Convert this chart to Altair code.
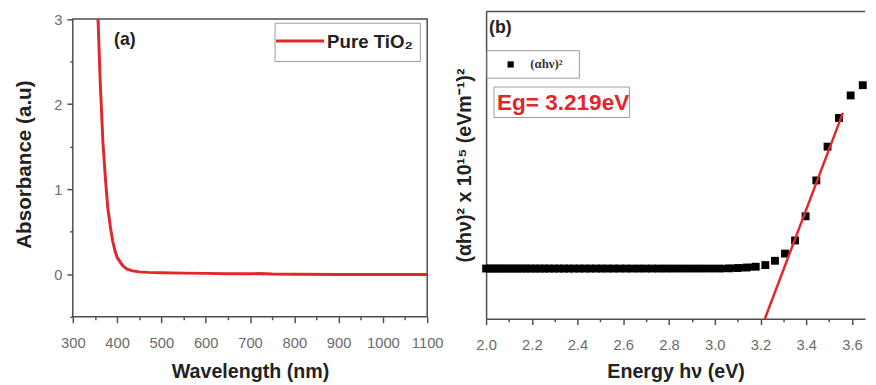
import altair as alt
import pandas as pd

# ---------------- data: panel (a) UV-Vis absorbance ----------------
wavelength = [357, 362, 368, 374, 379, 385, 390, 395, 400, 405, 410, 415, 423,
              435, 450, 470, 500, 550, 600, 650, 700, 720, 750, 800, 900, 1000, 1100]
absorbance = [3.0, 2.25, 1.55, 1.1, 0.78, 0.55, 0.39, 0.28, 0.20, 0.16, 0.12, 0.09, 0.06,
              0.04, 0.028, 0.022, 0.018, 0.013, 0.010, 0.006, 0.006, 0.008, 0.002, 0.0,
              -0.002, -0.003, -0.004]
wl_ticks = [300, 350, 400, 450, 500, 550, 600, 650, 700, 750, 800, 850, 900, 950, 1000, 1050, 1100]
abs_ticks = [-0.5, 0, 0.5, 1, 1.5, 2, 2.5, 3]

# ---------------- data: panel (b) Tauc plot ----------------
energy = [2.000, 2.016, 2.033, 2.050, 2.067, 2.084, 2.102, 2.120, 2.138, 2.157,
          2.175, 2.195, 2.214, 2.234, 2.255, 2.275, 2.296, 2.318, 2.340, 2.362,
          2.385, 2.408, 2.431, 2.455, 2.480, 2.505, 2.531, 2.557, 2.583, 2.611,
          2.638, 2.667, 2.696, 2.725, 2.756, 2.787, 2.818, 2.851, 2.884, 2.918,
          2.952, 2.988, 3.024, 3.062, 3.100, 3.139, 3.179, 3.221, 3.263, 3.307,
          3.351, 3.397, 3.444, 3.493, 3.543, 3.594, 3.647]
tauc = [0.49, 0.49, 0.49, 0.49, 0.49, 0.49, 0.49, 0.49, 0.49, 0.49,
        0.49, 0.49, 0.49, 0.49, 0.49, 0.49, 0.49, 0.49, 0.49, 0.49,
        0.49, 0.49, 0.49, 0.49, 0.49, 0.49, 0.49, 0.49, 0.49, 0.49,
        0.49, 0.49, 0.49, 0.49, 0.49, 0.49, 0.49, 0.49, 0.49, 0.49,
        0.49, 0.49, 0.490, 0.492, 0.495, 0.500, 0.508, 0.524, 0.566, 0.636,
        0.764, 1.00, 1.35, 1.68, 1.96, 2.18, 2.28]
fit_energy = [3.219, 3.56]
fit_value = [0.0, 2.01]
e_ticks = [2.0, 2.1, 2.2, 2.3, 2.4, 2.5, 2.6, 2.7, 2.8, 2.9, 3.0, 3.1, 3.2, 3.3, 3.4, 3.5, 3.6]

RED = "#e3262b"
FRAME = "#4d4d4d"
LABEL = "#6b6b6b"
FONT = "Liberation Sans"
one = pd.DataFrame({"k": [0]})

# ---------------- panel (a) ----------------
WA, HA = 361, 311


def xa(field="wl"):
    return alt.X(f"{field}:Q",
                 scale=alt.Scale(domain=[300, 1100], nice=False, zero=False),
                 axis=alt.Axis(values=wl_ticks, labelOverlap=False, labelFlush=False,
                               labelExpr="datum.value % 100 === 0 ? format(datum.value, 'd') : ''",
                               tickSize={"condition": {"test": "datum.value % 100 !== 0", "value": 3}, "value": 6},
                               title="Wavelength (nm)", domain=False, grid=False,
                               labelPadding=13, titlePadding=12))


def ya(field="abs"):
    return alt.Y(f"{field}:Q",
                 scale=alt.Scale(domain=[-0.5, 3.09], nice=False, zero=False),
                 axis=alt.Axis(values=abs_ticks, labelOverlap=False, labelFlush=False,
                               labelExpr="datum.value % 1 === 0 ? format(datum.value, 'd') : ''",
                               tickSize={"condition": {"test": "datum.value % 1 !== 0", "value": 3}, "value": 6},
                               title="Absorbance (a.u)", titleFontSize=21, domain=False, grid=False,
                               labelPadding=5, titlePadding=20))


df_a = pd.DataFrame({"wl": wavelength, "abs": absorbance})
frame_a = alt.Chart(pd.DataFrame({"wl": [300], "wl2": [1100], "abs": [-0.5], "abs2": [3.0]})).mark_rect(
    fillOpacity=0, stroke=FRAME, strokeWidth=1.5).encode(x=xa(), x2="wl2:Q", y=ya(), y2="abs2:Q")
line_a = alt.Chart(df_a).mark_line(color=RED, strokeWidth=3).encode(x=xa(), y=ya())
leg_box_a = alt.Chart(one).mark_rect(fill="white", stroke="#9a9a9a", strokeWidth=1).encode(
    x=alt.value(206), x2=alt.value(354), y=alt.value(12), y2=alt.value(51))
leg_line_a = alt.Chart(one).mark_rule(color=RED, strokeWidth=3).encode(
    x=alt.value(207), x2=alt.value(256), y=alt.value(30))
leg_text_a = alt.Chart(one).mark_text(align="left", baseline="middle", font=FONT, fontWeight="bold",
                                      fontSize=19, color="#222").encode(
    x=alt.value(259), y=alt.value(31), text=alt.value("Pure TiO₂"))
tag_a = alt.Chart(one).mark_text(align="left", baseline="middle", font=FONT, fontWeight="bold",
                                 fontSize=18, color="#222").encode(
    x=alt.value(42), y=alt.value(29), text=alt.value("(a)"))

panel_a = alt.layer(frame_a, line_a, leg_box_a, leg_line_a, leg_text_a, tag_a).properties(width=WA, height=HA)

# ---------------- panel (b) ----------------
WB, HB = 386, 313


def xb(field="E"):
    return alt.X(f"{field}:Q",
                 scale=alt.Scale(domain=[2.0, 3.657], nice=False, zero=False),
                 axis=alt.Axis(values=e_ticks, labelOverlap=False, labelFlush=False,
                               labelExpr="round(datum.value*10) % 2 === 0 ? format(datum.value, '.1f') : ''",
                               tickSize={"condition": {"test": "round(datum.value*10) % 2 !== 0", "value": 3}, "value": 6},
                               title="Energy hν (eV)", grid=False, labelPadding=13, titlePadding=10))


def yb(field="T"):
    return alt.Y(f"{field}:Q",
                 scale=alt.Scale(domain=[0, 3.0], nice=False, zero=False),
                 axis=alt.Axis(labels=False, ticks=False, grid=False,
                               title="(αhν)² x 10¹⁵ (eVm⁻¹)²", titlePadding=12))


df_b = pd.DataFrame({"E": energy, "T": tauc})
df_fit = pd.DataFrame({"E": fit_energy, "T": fit_value})
band_b = alt.Chart(df_b).transform_filter("datum.E <= 3.2").mark_line(
    color="black", strokeWidth=7).encode(x=xb(), y=yb())
pts_b = alt.Chart(df_b).mark_square(size=64, color="black", opacity=1).encode(x=xb(), y=yb())
fit_b = alt.Chart(df_fit).mark_line(color=RED, strokeWidth=2.5).encode(x=xb(), y=yb())
top_b = alt.Chart(one).mark_rule(color=FRAME, strokeWidth=1.5).encode(
    x=alt.value(0), x2=alt.value(WB), y=alt.value(0))
leg_box_b = alt.Chart(one).mark_rect(fill="white", stroke="#9a9a9a", strokeWidth=1).encode(
    x=alt.value(1), x2=alt.value(95), y=alt.value(40), y2=alt.value(68))
leg_pt_b = alt.Chart(one).mark_square(size=40, color="black", opacity=1).encode(
    x=alt.value(25), y=alt.value(54))
leg_text_b = alt.Chart(one).mark_text(align="left", baseline="middle", font="Liberation Serif",
                                      fontWeight="bold", fontSize=13, color="#333").encode(
    x=alt.value(45), y=alt.value(54), text=alt.value("(αhν)²"))
eg_box = alt.Chart(one).mark_rect(fill="white", stroke="#9a9a9a", strokeWidth=1).encode(
    x=alt.value(8), x2=alt.value(146), y=alt.value(77), y2=alt.value(108))
eg_text = alt.Chart(one).mark_text(align="left", baseline="middle", font=FONT, fontWeight="bold",
                                   fontSize=23, color=RED).encode(
    x=alt.value(11), y=alt.value(93), text=alt.value("Eg= 3.219eV"))
tag_b = alt.Chart(one).mark_text(align="left", baseline="middle", font=FONT, fontWeight="bold",
                                 fontSize=18, color="#222").encode(
    x=alt.value(3), y=alt.value(17), text=alt.value("(b)"))

panel_b = alt.layer(top_b, band_b, pts_b, fit_b, leg_box_b, leg_pt_b, leg_text_b, eg_box, eg_text,
                    tag_b).properties(width=WB, height=HB)

chart = alt.hconcat(panel_a, panel_b, spacing=10).configure(
    padding={"left": 5, "top": -2, "right": 0, "bottom": 0}
).configure_view(stroke="transparent").configure_axis(
    labelFont=FONT, labelFontSize=15, labelColor=LABEL,
    titleFont=FONT, titleFontSize=20, titleFontWeight="bold", titleColor="#222",
    domainColor=FRAME, domainWidth=1.5, tickColor=FRAME, tickWidth=1.5,
)

chart.save("out.html", embed_options={"renderer": "svg", "actions": False})
